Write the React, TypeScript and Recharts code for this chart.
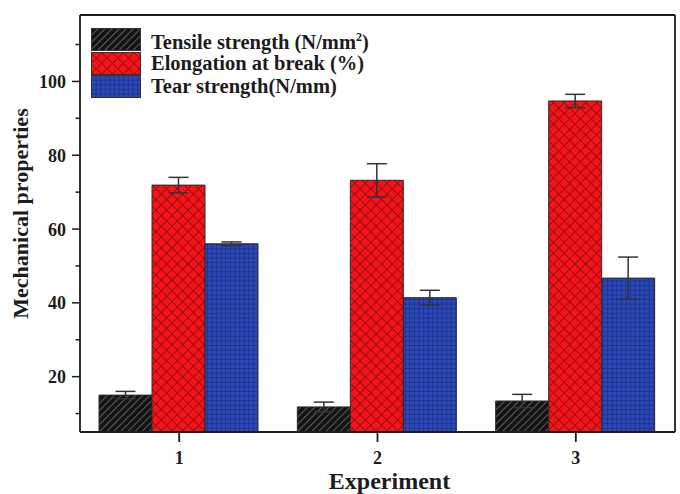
import { BarChart, Bar, XAxis, YAxis, ErrorBar, CartesianGrid } from "recharts";

const experiments = ["1", "2", "3"];
const tensile = [15.0, 11.8, 13.4];
const tensileErr = [1.0, 1.3, 1.8];
const elongation = [71.9, 73.2, 94.7];
const elongationErr = [2.1, 4.5, 1.8];
const tear = [56.0, 41.4, 46.7];
const tearErr = [0.5, 2.0, 5.7];
const yTicks = [10, 20, 30, 40, 50, 60, 70, 80, 90, 100, 110];

const data = experiments.map((exp, i) => ({
  exp,
  tensile: tensile[i],
  tensileErr: tensileErr[i],
  elongation: elongation[i],
  elongationErr: elongationErr[i],
  tear: tear[i],
  tearErr: tearErr[i],
}));

const FONT = "'Liberation Serif', 'Times New Roman', serif";
const INK = "#1c1c1c";

// hatch fills for the three series; prefix keeps ids unique per svg
const Patterns = ({ prefix }: { prefix: string }) => (
  <defs>
    <pattern id={`${prefix}-black`} width="5" height="5" patternUnits="userSpaceOnUse" patternTransform="rotate(45)">
      <rect width="5" height="5" fill="#141414" />
      <line x1="0" y1="0" x2="0" y2="5" stroke="#6e6e6e" strokeWidth="1.6" />
    </pattern>
    <pattern id={`${prefix}-red`} width="7.6" height="7.6" patternUnits="userSpaceOnUse" patternTransform="rotate(45)">
      <rect width="7.6" height="7.6" fill="#f5141a" />
      <line x1="0" y1="0" x2="0" y2="7.6" stroke="#5e0a0a" strokeWidth="1.2" />
      <line x1="0" y1="0" x2="7.6" y2="0" stroke="#5e0a0a" strokeWidth="1.2" />
    </pattern>
    <pattern id={`${prefix}-blue`} width="4.6" height="4.6" patternUnits="userSpaceOnUse">
      <rect width="4.6" height="4.6" fill="#2b47b8" />
      <line x1="0" y1="0" x2="0" y2="4.6" stroke="#14215e" strokeWidth="0.9" />
      <line x1="0" y1="0" x2="4.6" y2="0" stroke="#14215e" strokeWidth="0.9" />
    </pattern>
  </defs>
);

const series = [
  { key: "tensile", fill: "black", label: <>Tensile strength (N/mm<sup style={{ fontSize: 12 }}>2</sup>)</> },
  { key: "elongation", fill: "red", label: <>Elongation at break (%)</> },
  { key: "tear", fill: "blue", label: <>Tear strength(N/mm)</> },
];

const LegendBox = () => (
  <div
    style={{
      position: "absolute",
      left: 91,
      top: 28,
      fontFamily: FONT,
      fontWeight: "bold",
      fontSize: 20.5,
      color: INK,
      whiteSpace: "nowrap",
    }}
  >
    {series.map((s) => (
      <div key={s.key} style={{ display: "flex", alignItems: "center", height: 23.5 }}>
        <svg width={50} height={23} style={{ marginRight: 10, display: "block" }}>
          <Patterns prefix={`lg-${s.key}`} />
          <rect x={0.5} y={0.5} width={49} height={22} fill={`url(#lg-${s.key}-${s.fill})`} stroke="#333" />
        </svg>
        <span style={{ lineHeight: "23px" }}>{s.label}</span>
      </div>
    ))}
  </div>
);

const YTick = (props: any) => {
  const { x, y, payload } = props;
  const major = payload.value % 20 === 0;
  const axisX = x + 14;
  return (
    <g>
      <line x1={axisX - (major ? 8 : 4.5)} x2={axisX} y1={y} y2={y} stroke={INK} strokeWidth={1.5} />
      {major && (
        <text x={x} y={y} dy="0.36em" textAnchor="end" fontFamily={FONT} fontWeight="bold" fontSize={18} fill={INK}>
          {payload.value}
        </text>
      )}
    </g>
  );
};

const YLabel = (props: any) => {
  const vb = props.viewBox;
  const cx = vb.x + 20;
  const cy = vb.y + vb.height / 2 - 10;
  return (
    <text
      x={cx}
      y={cy}
      transform={`rotate(-90, ${cx}, ${cy})`}
      textAnchor="middle"
      dominantBaseline="central"
      fontFamily={FONT}
      fontWeight="bold"
      fontSize={22}
      fill={INK}
    >
      Mechanical properties
    </text>
  );
};

const XLabel = (props: any) => {
  const vb = props.viewBox;
  return (
    <text
      x={vb.x + vb.width / 2 + 12}
      y={vb.y + vb.height - 5}
      textAnchor="middle"
      fontFamily={FONT}
      fontWeight="bold"
      fontSize={24}
      fill={INK}
    >
      Experiment
    </text>
  );
};

export default function App() {
  return (
    <div style={{ position: "absolute", left: 0, top: 0, width: 680, height: 494, background: "#fff" }}>
      <BarChart
        width={680}
        height={494}
        data={data}
        margin={{ top: 15, right: 5, left: 0, bottom: 0 }}
        barCategoryGap={19}
        barGap={0}
      >
        <Patterns prefix="bar" />
        {/* top and right sides of the frame */}
        <CartesianGrid
          stroke={INK}
          strokeWidth={1.8}
          horizontalCoordinatesGenerator={(p: any) => [p.offset.top]}
          verticalCoordinatesGenerator={(p: any) => [p.offset.left + p.offset.width]}
        />
        <XAxis
          dataKey="exp"
          height={62}
          tickSize={10}
          tickMargin={9}
          axisLine={{ stroke: INK, strokeWidth: 1.8 }}
          tickLine={{ stroke: INK, strokeWidth: 1.8 }}
          tick={{ fontFamily: FONT, fontWeight: "bold", fontSize: 18, fill: INK }}
          label={<XLabel />}
        />
        <YAxis
          width={80}
          type="number"
          domain={[5, 118]}
          allowDataOverflow
          ticks={yTicks}
          interval={0}
          tickSize={8}
          tickMargin={6}
          tickLine={false}
          axisLine={{ stroke: INK, strokeWidth: 1.8 }}
          tick={<YTick />}
          label={<YLabel />}
        />
        <Bar dataKey="tensile" name="Tensile strength" fill="url(#bar-black)" stroke="#2a2a2a" strokeWidth={1} isAnimationActive={false}>
          <ErrorBar dataKey="tensileErr" width={10} stroke="#333" strokeWidth={1.5} />
        </Bar>
        <Bar dataKey="elongation" name="Elongation at break" fill="url(#bar-red)" stroke="#2a2a2a" strokeWidth={1} isAnimationActive={false}>
          <ErrorBar dataKey="elongationErr" width={10} stroke="#333" strokeWidth={1.5} />
        </Bar>
        <Bar dataKey="tear" name="Tear strength" fill="url(#bar-blue)" stroke="#2a2a2a" strokeWidth={1} isAnimationActive={false}>
          <ErrorBar dataKey="tearErr" width={10} stroke="#333" strokeWidth={1.5} />
        </Bar>
      </BarChart>
      <LegendBox />
    </div>
  );
}
